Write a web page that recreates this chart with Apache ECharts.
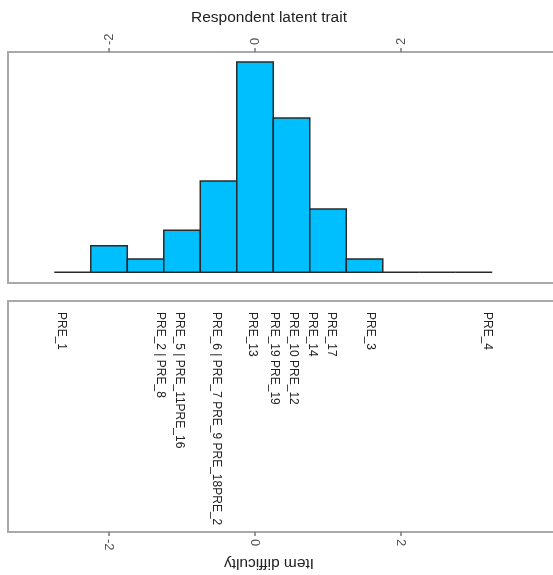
<!DOCTYPE html>
<html>
<head>
<meta charset="utf-8">
<script src="https://cdn.jsdelivr.net/npm/echarts@6/dist/echarts.min.js"></script>
<style>html,body{margin:0;padding:0;background:#fff;}#c{width:553px;height:575px;}</style>
</head>
<body>
<div id="c"></div>
<script>
// Histogram of respondent latent trait (bin edges and heights)
const binStarts = [-2.75, -2.25, -1.75, -1.25, -0.75, -0.25, 0.25, 0.75, 1.25, 1.75, 2.25, 2.75];
const binEnds   = [-2.25, -1.75, -1.25, -0.75, -0.25, 0.25, 0.75, 1.25, 1.75, 2.25, 2.75, 3.25];
const binHeights = [0, 2.0, 1.0, 3.15, 6.85, 15.8, 11.6, 4.75, 1.0, 0, 0, 0];
// Item difficulty labels
const itemLabels = ["PRE_1", "PRE_2 | PRE_8", "PRE_5 | PRE_11PRE_16", "PRE_6 | PRE_7 PRE_9 PRE_18PRE_2",
  "PRE_13", "PRE_19 PRE_19", "PRE_10 PRE_12", "PRE_14", "PRE_17", "PRE_3", "PRE_4"];
const itemDifficulty = [-2.66, -1.30, -1.04, -0.53, -0.04, 0.26, 0.53, 0.79, 1.05, 1.58, 3.18];
const tickValues = [-2, 0, 2];

const FONT = "'Liberation Sans', Arial, sans-serif";
const chart = echarts.init(document.getElementById('c'), null, {renderer: 'canvas'});

const histData = binStarts.map((s, i) => [s, binEnds[i], binHeights[i]]);
const itemData = itemDifficulty.map((d, i) => [d, itemLabels[i]]);

const XMIN = -3.384, XMAX = 4.082;
const axisCommon = {
  type: 'value', min: XMIN, max: XMAX,
  axisLine: {show: false, onZero: false},
  splitLine: {show: false},
  axisTick: {show: true, customValues: tickValues, length: 4, lineStyle: {color: '#777', width: 1.5}},
  axisLabel: {show: true, customValues: tickValues, rotate: -90, margin: 7, color: '#555', fontSize: 13, fontFamily: FONT}
};

chart.setOption({
  animation: false,
  backgroundColor: '#fff',
  grid: [
    {left: 8, top: 52, right: 0, height: 231, show: false},
    {left: 8, top: 301, right: 0, height: 231, show: false}
  ],
  xAxis: [
    Object.assign({}, axisCommon, {gridIndex: 0, position: 'top'}),
    Object.assign({}, axisCommon, {gridIndex: 1, position: 'bottom'})
  ],
  yAxis: [
    {type: 'value', gridIndex: 0, min: -0.805, max: 16.55, show: false},
    {type: 'value', gridIndex: 1, min: 0, max: 1, show: false}
  ],
  graphic: [
    {type: 'rect', shape: {x: 8, y: 52, width: 600, height: 231}, style: {fill: 'none', stroke: '#a9a9a9', lineWidth: 2}, z: 0},
    {type: 'rect', shape: {x: 8, y: 301, width: 600, height: 231}, style: {fill: 'none', stroke: '#a9a9a9', lineWidth: 2}, z: 0},
    {type: 'text', x: 269, y: 18, style: {text: 'Respondent latent trait', fill: '#222', fontSize: 15.5, fontFamily: FONT, textAlign: 'center', textVerticalAlign: 'middle'}},
    {type: 'text', x: 269, y: 563, rotation: Math.PI, style: {text: 'Item difficulty', fill: '#222', fontSize: 15.5, fontFamily: FONT, textAlign: 'center', textVerticalAlign: 'middle'}}
  ],
  series: [
    {
      type: 'custom', xAxisIndex: 0, yAxisIndex: 0, data: histData, clip: false,
      renderItem: function (params, api) {
        const p0 = api.coord([api.value(0), api.value(2)]);
        const p1 = api.coord([api.value(1), 0]);
        return {
          type: 'rect',
          shape: {x: p0[0], y: p0[1], width: p1[0] - p0[0], height: p1[1] - p0[1]},
          style: {fill: '#00BFFF', stroke: '#2a2a2a', lineWidth: 1.5}
        };
      }
    },
    {
      type: 'custom', xAxisIndex: 1, yAxisIndex: 1, data: itemData, clip: true,
      renderItem: function (params, api) {
        const p = api.coord([api.value(0), 1]);
        return {
          type: 'text', x: p[0], y: p[1] + 11, rotation: -Math.PI / 2,
          style: {text: itemLabels[params.dataIndex], fill: '#222', fontSize: 12, fontFamily: FONT, textAlign: 'left', textVerticalAlign: 'middle'}
        };
      }
    }
  ]
});
</script>
</body>
</html>
